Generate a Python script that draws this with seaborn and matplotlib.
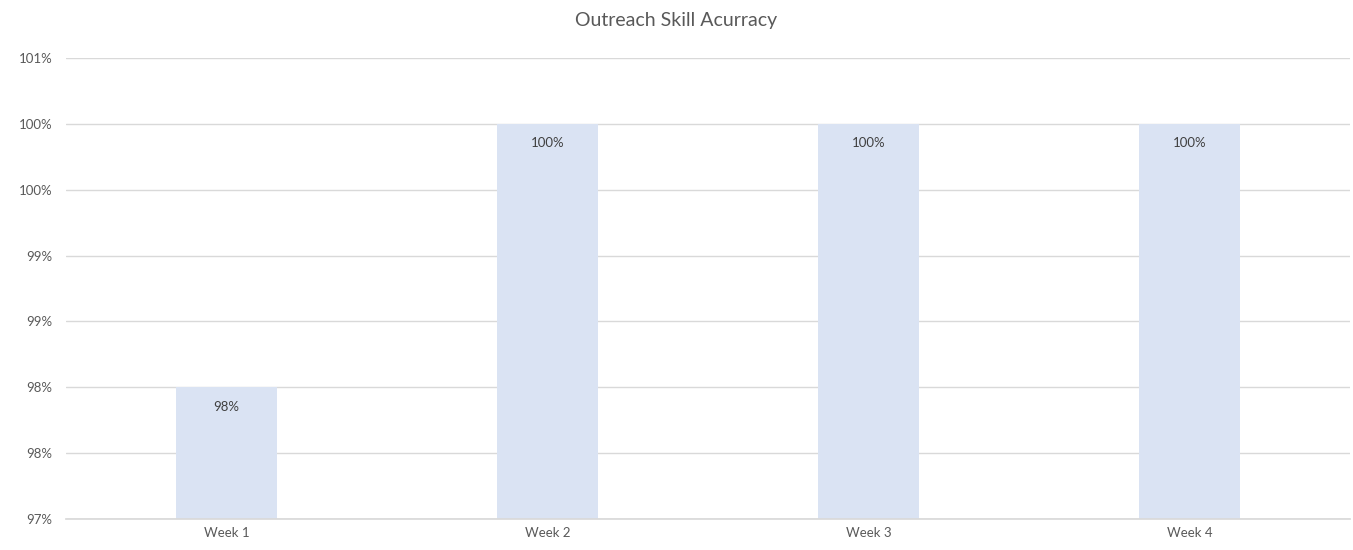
import seaborn as sns
import matplotlib.pyplot as plt
import pandas as pd
from matplotlib.ticker import FuncFormatter

weeks = ["Week 1", "Week 2", "Week 3", "Week 4"]
accuracy = [98.0, 100.0, 100.0, 100.0]
labels = ["98%", "100%", "100%", "100%"]
yticks = [97.0, 97.5, 98.0, 98.5, 99.0, 99.5, 100.0, 100.5]

sns.set_theme(style="white")
plt.rcParams["font.family"] = ["Lato", "DejaVu Sans"]

df = pd.DataFrame({"week": weeks, "acc": accuracy})

fig = plt.figure(figsize=(13.53, 5.5), dpi=100)
ax = fig.add_axes([0.0488, 0.0564, 0.949, 0.8381])
sns.barplot(x="week", y="acc", data=df, color="#DAE3F3", saturation=1,
            width=0.315, linewidth=0, ax=ax, zorder=2)

ax.set_ylim(97.0, 100.5)
ax.set_yticks(yticks)
ax.yaxis.set_major_formatter(FuncFormatter(lambda v, p: f"{int(v + 0.5)}%"))
ax.grid(axis="y", color="#D9D9D9", linewidth=1, zorder=0)
ax.set_axisbelow(True)
for s in ["top", "right", "left"]:
    ax.spines[s].set_visible(False)
ax.spines["bottom"].set_color("#D9D9D9")
ax.tick_params(axis="both", length=0, labelsize=9.5, colors="#595959", pad=6)
ax.tick_params(axis="y", pad=10)
ax.set_xlabel("")
ax.set_ylabel("")

for i, (v, t) in enumerate(zip(accuracy, labels)):
    ax.annotate(t, (i, v), xytext=(0, -14), textcoords="offset points",
                ha="center", va="center", fontsize=9.5, color="#404040")

fig.text(0.5, 0.962, "Outreach Skill Acurracy", ha="center", va="center",
         fontsize=14, color="#595959")

plt.savefig("out.png", dpi=100)
